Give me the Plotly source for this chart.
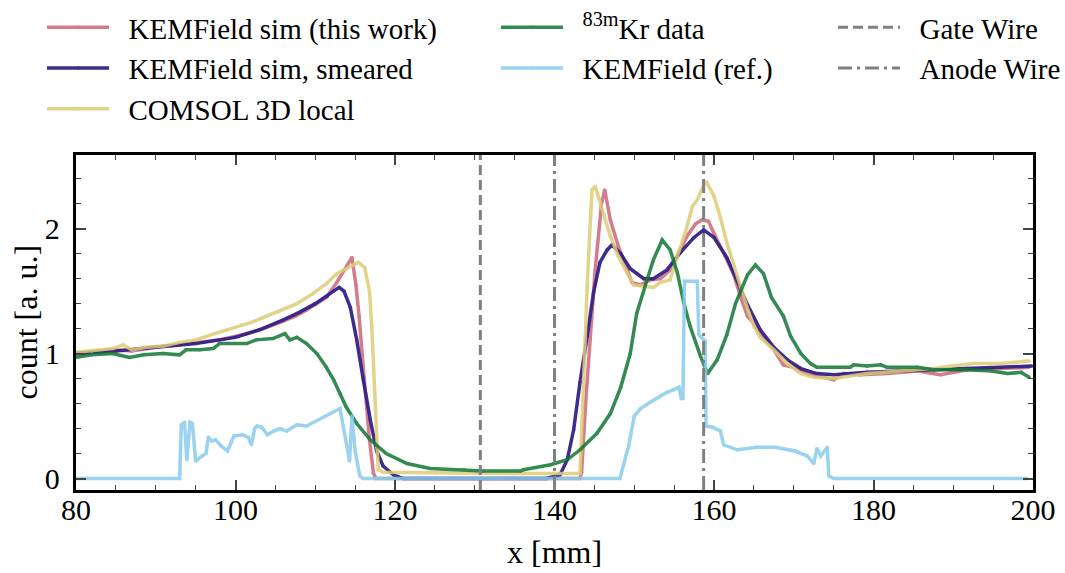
import plotly.graph_objects as go

# ---------------- data ----------------
sim_x = [80, 82, 84.6, 87, 90, 93, 96, 98, 101.4, 103.5, 105.6, 107.5, 108.9, 110.2, 111.4,
         112.7, 113.9, 114.6, 115.1, 115.5, 116.0, 116.8, 117.3, 117.6, 125, 135, 143.2,
         143.4, 143.9, 144.5, 145.1, 145.9, 146.3, 147.0, 148.0, 149.1, 149.7, 150.8, 152.0,
         153.3, 154.5, 155.8, 156.6, 157.7, 158.5, 159.3, 160.0, 160.6, 161.4, 162.5, 163.3,
         164.2, 165.0, 165.8, 167.5, 168.7, 170, 171.7, 173.8, 175, 176.3, 178.4, 181.7,
         185.5, 188.4, 191.8, 196, 199.5]
sim_y = [1.00, 1.01, 1.03, 1.02, 1.05, 1.07, 1.09, 1.11, 1.16, 1.20, 1.25, 1.30, 1.35, 1.40, 1.45,
         1.57, 1.69, 1.77, 1.55, 1.30, 0.90, 0.31, 0.04, 0.0, 0.0, 0.0, 0.0,
         0.05, 0.60, 1.14, 1.67, 2.20, 2.31, 2.07, 1.86, 1.67, 1.57, 1.55, 1.59,
         1.60, 1.67, 1.83, 1.94, 2.04, 2.07, 2.06, 1.96, 1.88, 1.78, 1.63, 1.46,
         1.30, 1.24, 1.16, 1.03, 0.91, 0.89, 0.84, 0.81, 0.79, 0.84, 0.83, 0.84,
         0.86, 0.83, 0.87, 0.88, 0.89]

smeared_x = [80, 85, 90, 95, 100, 103, 106, 108, 110, 111.5, 112.3, 113.0, 113.6, 114.4, 115.2,
             116.0, 116.9, 117.7, 118.5, 119.8, 121, 130, 139, 140.7, 141.6, 142.4, 143.2,
             144.1, 144.9, 145.7, 146.6, 147.2, 148.3, 149.5, 151.2, 152.4, 154.1, 155.8,
             157.5, 158.7, 160.0, 160.8, 161.6, 162.5, 163.3, 164.2, 165.0, 165.8, 167.5,
             169.2, 170.9, 172.9, 175, 179.2, 183.4, 187.6, 191.8, 196, 199.8]
smeared_y = [1.00, 1.02, 1.05, 1.08, 1.13, 1.19, 1.27, 1.33, 1.40, 1.46, 1.50, 1.53, 1.50, 1.37, 1.11,
             0.80, 0.47, 0.22, 0.10, 0.03, 0.0, 0.0, 0.0, 0.03, 0.15, 0.39, 0.77,
             1.14, 1.49, 1.73, 1.83, 1.87, 1.80, 1.68, 1.60, 1.60, 1.67, 1.81,
             1.93, 1.99, 1.93, 1.85, 1.77, 1.64, 1.52, 1.39, 1.29, 1.19, 1.05,
             0.95, 0.88, 0.84, 0.83, 0.85, 0.86, 0.87, 0.88, 0.89, 0.90]

comsol_x = [80, 82, 84.6, 85.9, 87, 88.8, 91, 93, 95, 97.4, 99, 100.8, 102, 103.5, 105.5, 107.7,
            109.7, 111.4, 112.7, 113.9, 115.4, 116.2, 116.8, 117.1, 117.3, 117.5, 117.7, 117.9,
            118.5, 125, 135, 143.2, 143.6, 144.1, 144.4, 144.7, 145.1, 145.5, 146.2, 147.0,
            148.0, 149.1, 149.9, 151.2, 152.4, 153.3, 154.5, 155.4, 156.4, 157.3, 157.9, 158.7,
            159.1, 160.0, 160.8, 161.6, 162.5, 163.3, 164.2, 165.0, 165.8, 167.5, 169.2, 170.9,
            172.6, 175, 179.2, 183.4, 187.6, 189.7, 192.6, 196, 197.6, 199.5]
comsol_y = [1.01, 1.02, 1.04, 1.07, 1.03, 1.05, 1.06, 1.09, 1.11, 1.16, 1.19, 1.23, 1.25, 1.29, 1.34, 1.40,
            1.48, 1.56, 1.64, 1.68, 1.73, 1.69, 1.50, 1.20, 0.90, 0.55, 0.25, 0.07,
            0.05, 0.045, 0.04, 0.04, 0.79, 1.54, 1.94, 2.31, 2.34, 2.26, 2.12, 1.94,
            1.78, 1.64, 1.55, 1.54, 1.53, 1.57, 1.59, 1.78, 1.97, 2.18, 2.23, 2.35,
            2.37, 2.26, 2.09, 1.89, 1.70, 1.54, 1.36, 1.22, 1.13, 1.03, 0.92, 0.84,
            0.81, 0.80, 0.84, 0.86, 0.88, 0.90, 0.92, 0.92, 0.93, 0.94]

kr_x = [80, 82, 84.6, 86.7, 88.5, 90.9, 93, 93.8, 95.5, 97.2, 98, 101.4, 102.6, 104.7, 106.2,
        106.8, 107.7, 108.9, 110.2, 111.4, 112.3, 113.1, 113.9, 115.2, 116.9, 118.9, 121.5,
        124.4, 128.6, 131, 135.7, 136.1, 139.5, 141.6, 143.2, 145.3, 147, 148.3, 149.5, 150.3,
        151.6, 152.4, 153.5, 154.5, 155.4, 156.2, 157.0, 158.3, 159.2, 160.4, 161.6, 162.7,
        164.2, 165.2, 166.2, 167.2, 168.7, 169.6, 170.9, 172.1, 172.9, 177.1, 177.5, 179.2,
        180.9, 181.7, 185.5, 187.6, 191.8, 194.8, 196.8, 198.5, 199.5]
kr_y = [0.97, 0.99, 1.00, 0.97, 0.99, 1.00, 0.99, 1.03, 1.03, 1.04, 1.08, 1.08, 1.11, 1.12, 1.16,
        1.11, 1.13, 1.08, 1.00, 0.89, 0.79, 0.68, 0.57, 0.44, 0.31, 0.20, 0.12,
        0.08, 0.07, 0.06, 0.06, 0.07, 0.11, 0.15, 0.23, 0.36, 0.52, 0.73, 1.00, 1.32,
        1.59, 1.75, 1.91, 1.83, 1.65, 1.41, 1.22, 0.98, 0.84, 0.95, 1.15, 1.40,
        1.63, 1.71, 1.64, 1.45, 1.30, 1.14, 1.00, 0.92, 0.89, 0.89, 0.91, 0.90,
        0.91, 0.89, 0.89, 0.87, 0.87, 0.86, 0.84, 0.85, 0.81]

ref_x = [80, 93.0, 93.2, 93.6, 93.9, 94.3, 94.6, 95.0, 95.8, 96.3, 96.6, 97.0, 97.5, 98.2, 99.0,
         99.5, 99.8, 100.9, 101.6, 102.0, 102.4, 102.7, 103.3, 104.0, 104.8, 105.6, 106.4,
         107.7, 108.9, 113.1, 114.3, 114.6, 115.0, 115.6, 116.0, 148.2, 148.9, 149.3, 150.0,
         150.8, 152.0, 153.3, 154.1, 154.9, 155.6, 155.9, 156.1, 156.3, 157.9, 158.1, 158.6,
         158.9, 159.0, 159.8, 160.8, 161.2, 162.9, 165.4, 167.7, 169.2, 170.2, 171.7, 172.5,
         172.9, 173.4, 174.2, 174.4, 175, 199.2]
ref_y = [0, 0, 0.43, 0.45, 0.15, 0.45, 0.44, 0.14, 0.18, 0.20, 0.33, 0.30, 0.31, 0.26, 0.22,
         0.29, 0.34, 0.35, 0.33, 0.27, 0.40, 0.42, 0.41, 0.35, 0.38, 0.40, 0.38,
         0.43, 0.42, 0.56, 0.14, 0.50, 0.22, 0.02, 0.0, 0.0, 0.18, 0.26, 0.50,
         0.56, 0.61, 0.66, 0.69, 0.71, 0.73, 0.64, 0.64, 1.58, 1.58, 1.15, 1.12,
         1.10, 0.42, 0.41, 0.38, 0.27, 0.23, 0.25, 0.25, 0.23, 0.22, 0.18, 0.12,
         0.24, 0.18, 0.25, 0.02, 0.0, 0.0]

gate_wire_x = [130.7]
anode_wire_x = [140.0, 158.7]

# ---------------- figure ----------------
FONT = "Liberation Serif"
PAD = "\u00a0\u00a0"
fig = go.Figure()


def add_series(x, y, name, color, legend, opacity=0.8):
    fig.add_trace(go.Scatter(
        x=x, y=y, name=PAD + name, mode="lines+markers",
        line=dict(color=color, width=3.5),
        marker=dict(size=3.5, color=color),
        opacity=opacity, legend=legend))


add_series(sim_x, sim_y, "KEMField sim (this work)", "#CC6677", "legend", 0.85)
add_series(smeared_x, smeared_y, "KEMField sim, smeared", "#332288", "legend", 0.95)
add_series(comsol_x, comsol_y, "COMSOL 3D local", "#DDCC77", "legend", 0.85)
add_series(kr_x, kr_y, "<sup>83m</sup>Kr data", "#117733", "legend2", 0.85)
add_series(ref_x, ref_y, "KEMField (ref.)", "#88CCEE", "legend2", 0.85)

for i, xv in enumerate(gate_wire_x):
    fig.add_vline(x=xv, line=dict(color="#808080", width=3, dash="10px,5px"),
                  showlegend=(i == 0), name=PAD + "Gate Wire", legend="legend3")
for i, xv in enumerate(anode_wire_x):
    fig.add_vline(x=xv, line=dict(color="#808080", width=3, dash="14px,5px,3px,5px"),
                  showlegend=(i == 0), name=PAD + "Anode Wire", legend="legend3")

leg_common = dict(xref="container", yref="container", xanchor="left", yanchor="top",
                  bgcolor="rgba(0,0,0,0)", font=dict(family=FONT, size=29, color="black"),
                  itemwidth=62, tracegroupgap=0)

fig.update_layout(
    width=1065, height=573,
    margin=dict(l=76, r=32, t=155, b=83, autoexpand=False),
    paper_bgcolor="white", plot_bgcolor="white",
    font=dict(family=FONT, size=30, color="black"),
    legend=dict(x=42 / 1065, y=1 - 2 / 573, **leg_common),
    legend2=dict(x=496 / 1065, y=1 - 2 / 573, **leg_common),
    legend3=dict(x=833 / 1065, y=1 - 2 / 573, **leg_common),
    xaxis=dict(range=[80, 200], tick0=80, dtick=20, ticks="inside", ticklen=10, tickwidth=1.5,
               mirror="allticks", showline=True, linewidth=2.5, linecolor="black",
               showgrid=False, zeroline=False, ticklabelstandoff=-9,
               minor=dict(dtick=5, ticks="inside", ticklen=5, tickwidth=1.2, showgrid=False)),
    yaxis=dict(range=[-0.092, 2.59], tick0=0, dtick=1, ticks="inside", ticklen=10, tickwidth=1.5,
               mirror="allticks", showline=True, linewidth=2.5, linecolor="black",
               showgrid=False, zeroline=False, ticksuffix="\u00a0",
               minor=dict(dtick=0.2, ticks="inside", ticklen=5, tickwidth=1.2, showgrid=False)),
    annotations=[
        dict(text="x [mm]", xref="paper", yref="paper", x=0.5, y=-(552 - 490) / 335,
             xanchor="center", yanchor="middle", showarrow=False,
             font=dict(family=FONT, size=32, color="black")),
        dict(text="count [a. u.]", xref="paper", yref="paper", x=-(76 - 25) / 957, y=0.5,
             xanchor="center", yanchor="middle", textangle=-90, showarrow=False,
             font=dict(family=FONT, size=32, color="black")),
    ],
)

fig.write_html("out.html")
